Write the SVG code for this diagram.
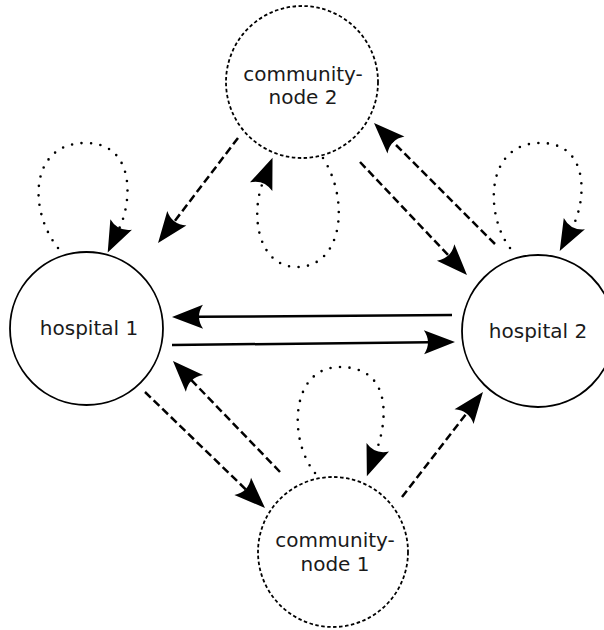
<svg xmlns="http://www.w3.org/2000/svg" width="604" height="630" viewBox="0 0 604 630">
<style>
  .bg{fill:#ffffff}
  .hosp{fill:#ffffff;stroke:#000;stroke-width:1.8}
  .comm{fill:#ffffff;stroke:#000;stroke-width:1.8;stroke-dasharray:3.5 2.5}
  .lbl{font-family:"DejaVu Sans","Liberation Sans",sans-serif;font-size:20px;fill:#1a1a1a;text-anchor:middle}
  .solid{fill:none;stroke:#000;stroke-width:2.5}
  .dash{fill:none;stroke:#000;stroke-width:2.5;stroke-dasharray:8 4}
  .dot{fill:none;stroke:#000;stroke-width:2.6;stroke-linecap:round;stroke-dasharray:0 9.5}
  .head{fill:#000;stroke:none}
</style>
<defs>
  <marker id="ah" markerUnits="userSpaceOnUse" orient="auto" refX="5" refY="0" markerWidth="32" markerHeight="26" overflow="visible">
    <path class="head" d="M31,0 L0,-12 Q8,0 0,12 Z"/>
  </marker>
</defs>
<rect class="bg" x="0" y="0" width="604" height="630"/>
<g id="nodes">
  <g id="hospital1">
    <circle class="hosp" cx="86.5" cy="328.5" r="76.5"/>
    <text class="lbl" x="89" y="335">hospital 1</text>
  </g>
  <g id="hospital2">
    <circle class="hosp" cx="538" cy="331" r="76"/>
    <text class="lbl" x="538" y="338">hospital 2</text>
  </g>
  <g id="community2">
    <circle class="comm" cx="302" cy="82" r="76"/>
    <text class="lbl" x="303" y="81">community-</text>
    <text class="lbl" x="303" y="104">node 2</text>
  </g>
  <g id="community1">
    <circle class="comm" cx="333" cy="552" r="75"/>
    <text class="lbl" x="335" y="547">community-</text>
    <text class="lbl" x="335" y="571">node 1</text>
  </g>
</g>
<g id="connectors">
  <path class="solid" d="M452,315 L198,316.8" marker-end="url(#ah)"/>
  <path class="solid" d="M172,345 L429,342.3" marker-end="url(#ah)"/>
  <path class="dash" d="M238,138 L173.8,222.3" marker-end="url(#ah)"/>
  <path class="dash" d="M360,162 L449.1,256.1" marker-end="url(#ah)"/>
  <path class="dash" d="M495,244 L392.4,141.4" marker-end="url(#ah)"/>
  <path class="dash" d="M145,392 L246.3,489.9" marker-end="url(#ah)"/>
  <path class="dash" d="M280,472 L191,379.7" marker-end="url(#ah)"/>
  <path class="dash" d="M402,497 L467.1,412.6" marker-end="url(#ah)"/>
  <path class="dot" d="M58,248 C28,210 30,145 83,143 C135,141 133,200 119,229" marker-end="url(#ah)"/>
  <path class="dot" d="M510,248 C485,215 485,145 538,143 C590,141 587,200 572,228" marker-end="url(#ah)"/>
  <path class="dot" d="M323,158 C350,200 343,267 297,267 C258,267 250,215 263,182" marker-end="url(#ah)"/>
  <path class="dot" d="M315,473 C288,440 290,367 340,367 C392,367 388,420 376,452" marker-end="url(#ah)"/>
</g>
</svg>
